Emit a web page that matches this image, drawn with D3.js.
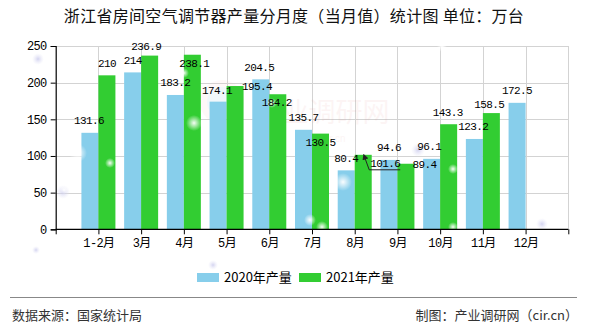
<!DOCTYPE html>
<html><head><meta charset="utf-8">
<script src="https://cdn.jsdelivr.net/npm/d3@7"></script>
<style>
body{margin:0;background:#fff;}
svg{display:block;}
</style></head>
<body>
<svg id="c" width="590" height="330"></svg>
<script>
const categories = ["1-2月","3月","4月","5月","6月","7月","8月","9月","10月","11月","12月"];
const values2020 = [131.6,214,183.2,174.1,204.5,135.7,80.4,94.6,96.1,123.2,172.5];
const values2021 = [210,236.9,238.1,195.4,184.2,130.5,101.6,89.4,143.3,158.5,null];
const yTicks = [0,50,100,150,200,250];
const seriesNames = ["2020年产量","2021年产量"];
const colors = ["#87CEEB","#32CD32"];
// label nudges (px) relative to bar top centre, as placed in the reference
const nudge2020 = [[-1,-13],[0,-12],[0,-13],[-1,-12],[-1.5,-12],[0,-13],[0,-12],[0,-12.6],[-2.5,-13],[-1,-13],[0,-12.5]];
const nudge2021 = [[0,-12.3],[-3.5,-10],[2,8.6],[22,0],[-1,8],[0,8.4],[22,8.5],[18.5,0],[-1,-12],[-2,-9],[0,0]];

const svg = d3.select("#c");
const L = 55.7, R = 568.3, T = 46, B = 229.3;
const x = d3.scaleLinear().domain([0, categories.length + 1]).range([L, R]);
const y = d3.scaleLinear().domain([0, 250]).range([B, T]);
const bw = 17;
const numFont = "'Liberation Mono','DejaVu Sans Mono',monospace";

// defs
const defs = svg.append("defs");
const gW = defs.append("radialGradient").attr("id","sw");
gW.append("stop").attr("offset","0%").attr("stop-color","#fff").attr("stop-opacity",0.95);
gW.append("stop").attr("offset","100%").attr("stop-color","#fff").attr("stop-opacity",0);
const gL = defs.append("radialGradient").attr("id","sl");
gL.append("stop").attr("offset","0%").attr("stop-color","#c8c8ec").attr("stop-opacity",0.8);
gL.append("stop").attr("offset","100%").attr("stop-color","#e4e4f6").attr("stop-opacity",0);
defs.append("marker").attr("id","arr").attr("viewBox","0 0 10 10").attr("refX",1).attr("refY",5)
  .attr("markerWidth",6).attr("markerHeight",6).attr("orient","auto-start-reverse")
  .append("path").attr("d","M0,0L10,5L0,10z").attr("fill","#222");

// title
svg.append("text").attr("x", 294).attr("y", 22).attr("text-anchor","middle")
  .attr("font-family","'Noto Sans CJK SC',sans-serif").attr("font-size",16).attr("fill","#111")
  .attr("letter-spacing","0.3")
  .text("浙江省房间空气调节器产量分月度（当月值）统计图 单位：万台");

// grid
const grid = svg.append("g").attr("stroke","#d3d3d3").attr("stroke-width",1);
yTicks.filter(d => d > 0).forEach(t => {
  grid.append("line").attr("x1", L).attr("x2", R).attr("y1", Math.round(y(t))+0.5).attr("y2", Math.round(y(t))+0.5);
});
d3.range(1, categories.length + 2).forEach(i => {
  grid.append("line").attr("x1", Math.round(x(i))+0.5).attr("x2", Math.round(x(i))+0.5).attr("y1", T).attr("y2", B);
});

// watermark
const wm = svg.append("g").attr("opacity", 0.08);
wm.append("circle").attr("cx", 222).attr("cy", 102).attr("r", 22).attr("fill", "#f3b0b0");
wm.append("circle").attr("cx", 222).attr("cy", 102).attr("r", 15).attr("fill", "#5aa0d8");
wm.append("text").attr("x", 322).attr("y", 122).attr("text-anchor","middle")
  .attr("font-family","'Noto Sans CJK SC',sans-serif").attr("font-size",27).attr("fill","#e08080").text("产业调研网");
wm.append("text").attr("x", 322).attr("y", 142).attr("text-anchor","middle")
  .attr("font-family","sans-serif").attr("font-size",10).attr("fill","#e08080").text("www.cir.cn");

// bars
const bars = svg.append("g");
bars.selectAll("rect.s0").data(values2020).enter().append("rect").attr("class","s0")
  .attr("x", (d,i) => x(i+1) - bw).attr("width", bw)
  .attr("y", d => y(d)).attr("height", d => B - y(d)).attr("fill", colors[0]);
bars.selectAll("rect.s1").data(values2021.map((v,i)=>({v,i})).filter(d => d.v != null)).enter().append("rect").attr("class","s1")
  .attr("x", d => x(d.i+1)).attr("width", bw)
  .attr("y", d => y(d.v)).attr("height", d => B - y(d.v)).attr("fill", colors[1]);

// sparkles (decoration)
const sparkles = [[38,59,6,"sl"],[63,192,7,"sl"],[78,153,9,"sw"],[110,163,5,"sw"],[184,73,5,"sw"],[194,123,8,"sw"],
  [272,103,5,"sw"],[343,182,9,"sw"],[310,220,6,"sw"],[322,227,6,"sw"],[453,169,5,"sw"],[453,227,5,"sw"],
  [542,224,6,"sl"],[418,150,7,"sl"],[36,250,4,"sl"],[213,265,5,"sl"],[442,47,5,"sw"],[64,190,4,"sw"]];
svg.append("g").selectAll("circle").data(sparkles).enter().append("circle")
  .attr("cx", d => d[0]).attr("cy", d => d[1]).attr("r", d => d[2]).attr("fill", d => `url(#${d[3]})`);

// value labels
const lab = svg.append("g").attr("font-family", numFont).attr("font-size", 11).attr("fill","#000")
  .attr("text-anchor","middle").attr("letter-spacing","-0.6");
values2020.forEach((v,i) => {
  lab.append("text").attr("x", x(i+1) - bw/2 + nudge2020[i][0]).attr("y", y(v) + nudge2020[i][1]).attr("dy","0.36em").text(v);
});
values2021.forEach((v,i) => {
  if (v == null) return;
  lab.append("text").attr("x", x(i+1) + bw/2 + nudge2021[i][0]).attr("y", y(v) + nudge2021[i][1]).attr("dy","0.36em").text(v);
});
// leader line for 8月 2021 label
{
  const i = 6, v = values2021[i];
  const cx = x(i+1) + bw/2, cy = y(v);
  svg.append("path").attr("d", `M${cx+37},${cy+15}L${cx+6},${cy+15}L${cx+2},${cy+4}`)
    .attr("fill","none").attr("stroke","#222").attr("stroke-width",1).attr("marker-end","url(#arr)");
}

// axes
const yAxis = svg.append("g").attr("transform", `translate(${L},0)`)
  .call(d3.axisLeft(y).tickValues(yTicks).tickSize(5).tickPadding(4));
const xAxis = svg.append("g").attr("transform", `translate(0,${B})`)
  .call(d3.axisBottom(x).tickValues(d3.range(0, categories.length + 2)).tickSize(5).tickPadding(4)
    .tickFormat(i => categories[i-1] || ""));
[yAxis, xAxis].forEach(a => {
  a.selectAll("path.domain").attr("stroke","#000").attr("stroke-width",1.2);
  a.selectAll(".tick line").attr("stroke","#000");
  a.selectAll("text").attr("fill","#000").attr("font-size",12)
    .attr("font-family", numFont + ",'Noto Sans CJK SC'").attr("letter-spacing","-0.6");
});
xAxis.select("path.domain").attr("d", `M${L},0H${R}`);

// legend
const lg = svg.append("g").attr("font-family","'Noto Sans CJK SC',sans-serif").attr("font-size",13).attr("fill","#000");
const legX = [197, 299];
seriesNames.forEach((n,k) => {
  lg.append("rect").attr("x", legX[k]).attr("y", 273).attr("width", 22).attr("height", 9).attr("fill", colors[k]);
  lg.append("text").attr("x", legX[k] + 27).attr("y", 282).text(n);
});

// footer
svg.append("line").attr("x1",10).attr("x2",577).attr("y1",297.5).attr("y2",297.5).attr("stroke","#888").attr("stroke-width",1);
svg.append("text").attr("x",12).attr("y",320).attr("font-family","'Noto Sans CJK SC',sans-serif").attr("font-size",13)
  .attr("fill","#333").text("数据来源：国家统计局");
svg.append("text").attr("x",578).attr("y",320).attr("text-anchor","end").attr("font-family","'Noto Sans CJK SC',sans-serif").attr("font-size",13)
  .attr("fill","#333").text("制图：产业调研网（cir.cn）");
</script>
</body></html>
